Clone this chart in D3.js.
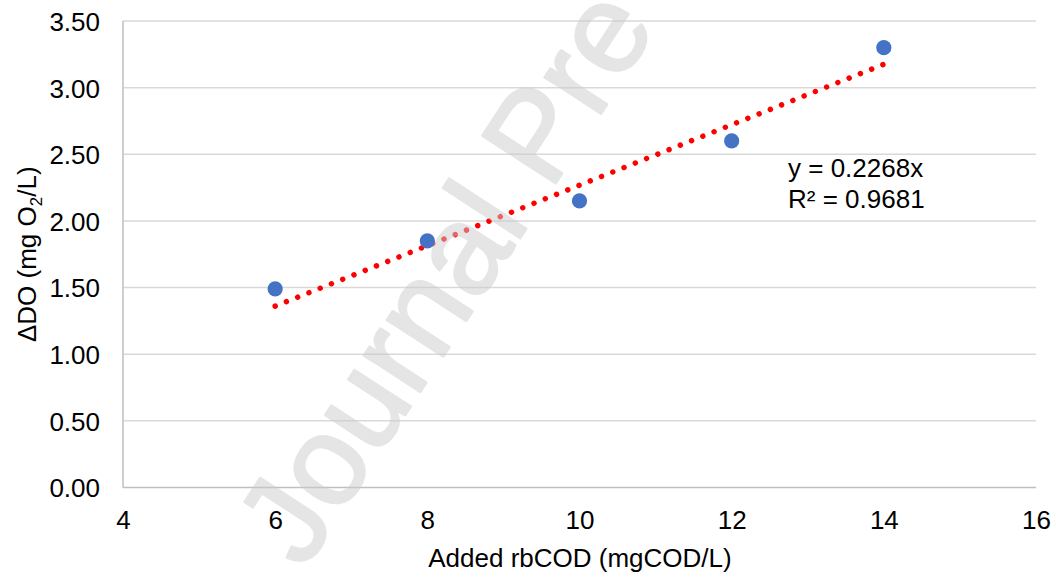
<!DOCTYPE html>
<html>
<head>
<meta charset="utf-8">
<script src="https://cdn.jsdelivr.net/npm/d3@7"></script>
<style>
  html, body { margin: 0; padding: 0; background: #ffffff; }
  svg { display: block; }
  text { font-family: "Liberation Sans", Arial, sans-serif; }
</style>
</head>
<body>
<svg id="chart" width="1056" height="579"></svg>
<script>
// Measured oxygen uptake versus added readily biodegradable COD
const rbCOD = [6, 8, 10, 12, 14];
const deltaDO = [1.49, 1.85, 2.15, 2.60, 3.30];

// Linear fit through the origin
const slope = 0.2268;
const rSquared = 0.9681;

const xTicks = [4, 6, 8, 10, 12, 14, 16];
const yTicks = [0, 0.5, 1.0, 1.5, 2.0, 2.5, 3.0, 3.5];

const xTitle = "Added rbCOD (mgCOD/L)";
const watermark = "Journal Pre";

const svg = d3.select("#chart");
const plot = { left: 123, right: 1036, top: 21, bottom: 487.5 };

const x = d3.scaleLinear().domain([4, 16]).range([plot.left, plot.right]);
const y = d3.scaleLinear().domain([0, 3.5]).range([plot.bottom, plot.top]);

// Horizontal gridlines
svg.append("g")
  .selectAll("line")
  .data(yTicks.filter(d => d > 0))
  .join("line")
  .attr("x1", plot.left).attr("x2", plot.right)
  .attr("y1", d => y(d)).attr("y2", d => y(d))
  .attr("stroke", "#d9d9d9").attr("stroke-width", 1.5);

// Axis lines
svg.append("line")
  .attr("x1", plot.left).attr("x2", plot.right)
  .attr("y1", y(0)).attr("y2", y(0))
  .attr("stroke", "#bfbfbf").attr("stroke-width", 1.5);
svg.append("line")
  .attr("x1", plot.left).attr("x2", plot.left)
  .attr("y1", y(0)).attr("y2", y(3.5))
  .attr("stroke", "#bfbfbf").attr("stroke-width", 1.5);

// Y tick labels
const yAxis = d3.axisLeft(y).tickValues(yTicks).tickFormat(d3.format(".2f")).tickSize(0).tickPadding(0);
const gy = svg.append("g").attr("transform", `translate(100,0)`).call(yAxis);
gy.select(".domain").remove();
gy.selectAll("text")
  .attr("font-size", 26)
  .attr("font-family", "Liberation Sans, Arial, sans-serif")
  .attr("fill", "#000")
  .attr("dy", "0.36em");

// X tick labels
const xAxis = d3.axisBottom(x).tickValues(xTicks).tickFormat(d3.format("d")).tickSize(0).tickPadding(0);
const gx = svg.append("g").attr("transform", `translate(0,529)`).call(xAxis);
gx.select(".domain").remove();
gx.selectAll("text")
  .attr("font-size", 26)
  .attr("font-family", "Liberation Sans, Arial, sans-serif")
  .attr("fill", "#000")
  .attr("dy", 0);

// Axis titles
svg.append("text")
  .attr("x", (plot.left + plot.right) / 2 + 0.5)
  .attr("y", 567)
  .attr("text-anchor", "middle")
  .attr("font-size", 26)
  .attr("fill", "#000")
  .text(xTitle);

const yt = svg.append("text")
  .attr("transform", `translate(36,${(plot.top + plot.bottom) / 2}) rotate(-90)`)
  .attr("text-anchor", "middle")
  .attr("font-size", 26)
  .attr("fill", "#000");
yt.append("tspan").text("\u0394DO (mg O");
yt.append("tspan").attr("font-size", 17).attr("dy", 6).text("2");
yt.append("tspan").attr("dy", -6).text("/L)");

// Trendline (dotted)
const fitLine = d3.line().x(d => x(d)).y(d => y(slope * d));
svg.append("path")
  .datum([d3.min(rbCOD), d3.max(rbCOD)])
  .attr("d", fitLine)
  .attr("fill", "none")
  .attr("stroke", "#ff0000")
  .attr("stroke-width", 5.5)
  .attr("stroke-linecap", "round")
  .attr("stroke-dasharray", "0.01 12.1");

// Data points
svg.append("g")
  .selectAll("circle")
  .data(rbCOD.map((v, i) => [v, deltaDO[i]]))
  .join("circle")
  .attr("cx", d => x(d[0]))
  .attr("cy", d => y(d[1]))
  .attr("r", 7.6)
  .attr("fill", "#4472c4");

// Regression equation
const eq = svg.append("g").attr("font-size", 26).attr("fill", "#000");
eq.append("text").attr("x", 788).attr("y", 177).text(`y = ${slope}x`);
eq.append("text").attr("x", 788).attr("y", 208).text(`R² = ${rSquared}`);

// Diagonal watermark laid over the plot
svg.append("g")
  .attr("opacity", 0.5)
  .append("text")
  .attr("transform", "translate(304,571) rotate(-57)")
  .attr("font-size", 127)
  .attr("fill", "#cccccc")
  .attr("stroke", "#cccccc")
  .attr("stroke-width", 2.5)
  .attr("stroke-linejoin", "round")
  .text(watermark);
</script>
</body>
</html>
